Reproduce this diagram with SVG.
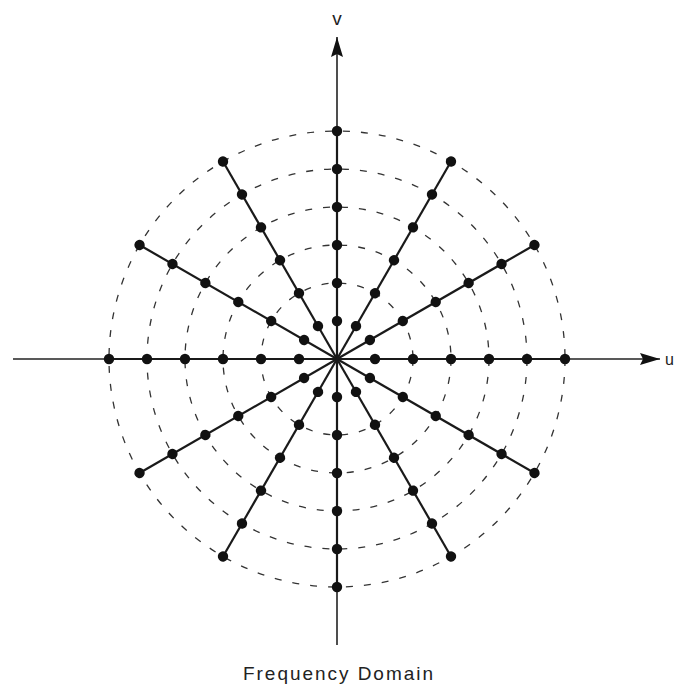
<svg xmlns="http://www.w3.org/2000/svg" xmlns:xlink="http://www.w3.org/1999/xlink" width="678" height="687" viewBox="0 0 678 687">
<style>
.ring{fill:none;stroke:#333;stroke-width:1.3;stroke-dasharray:7 11}
.axis{stroke:#222;stroke-width:1.6;fill:none}
.spoke{stroke:#1a1a1a;stroke-width:2.2}
.dot{fill:#111}
.lbl{font-family:"Liberation Sans",Arial,sans-serif;fill:#222}
</style>
<defs>
<marker id="arr" viewBox="0 0 20 12" refX="20" refY="6" markerWidth="20" markerHeight="12" markerUnits="userSpaceOnUse" orient="auto">
<path d="M0,0 L20,6 L0,12 L3,6 Z" fill="#111"/>
</marker>
<g id="spoke">
<line class="spoke" x1="337" y1="359" x2="565" y2="359"/>
<circle class="dot" cx="375" cy="359" r="5.2"/>
<circle class="dot" cx="413" cy="359" r="5.2"/>
<circle class="dot" cx="451" cy="359" r="5.2"/>
<circle class="dot" cx="489" cy="359" r="5.2"/>
<circle class="dot" cx="527" cy="359" r="5.2"/>
<circle class="dot" cx="565" cy="359" r="5.2"/>
</g>
</defs>
<rect width="678" height="687" fill="#fff"/>
<g id="rings">
<circle class="ring" cx="337" cy="359" r="76"/>
<circle class="ring" cx="337" cy="359" r="114"/>
<circle class="ring" cx="337" cy="359" r="152"/>
<circle class="ring" cx="337" cy="359" r="190"/>
<circle class="ring" cx="337" cy="359" r="228"/>
</g>
<g id="connectors">
<line class="axis" x1="13" y1="359" x2="660" y2="359" marker-end="url(#arr)"/>
<line class="axis" x1="337" y1="645" x2="337" y2="37" marker-end="url(#arr)"/>
</g>
<g id="spoke-0"><use xlink:href="#spoke" transform="rotate(0 337 359)"/></g>
<g id="spoke-30"><use xlink:href="#spoke" transform="rotate(30 337 359)"/></g>
<g id="spoke-60"><use xlink:href="#spoke" transform="rotate(60 337 359)"/></g>
<g id="spoke-90"><use xlink:href="#spoke" transform="rotate(90 337 359)"/></g>
<g id="spoke-120"><use xlink:href="#spoke" transform="rotate(120 337 359)"/></g>
<g id="spoke-150"><use xlink:href="#spoke" transform="rotate(150 337 359)"/></g>
<g id="spoke-180"><use xlink:href="#spoke" transform="rotate(180 337 359)"/></g>
<g id="spoke-210"><use xlink:href="#spoke" transform="rotate(210 337 359)"/></g>
<g id="spoke-240"><use xlink:href="#spoke" transform="rotate(240 337 359)"/></g>
<g id="spoke-270"><use xlink:href="#spoke" transform="rotate(270 337 359)"/></g>
<g id="spoke-300"><use xlink:href="#spoke" transform="rotate(300 337 359)"/></g>
<g id="spoke-330"><use xlink:href="#spoke" transform="rotate(330 337 359)"/></g>
<g id="labels">
<text class="lbl" x="337" y="25" font-size="19" text-anchor="middle">v</text>
<text class="lbl" x="665" y="365" font-size="16">u</text>
<text class="lbl" x="243" y="680" font-size="19" textLength="190" lengthAdjust="spacing">Frequency Domain</text>
</g>
</svg>
